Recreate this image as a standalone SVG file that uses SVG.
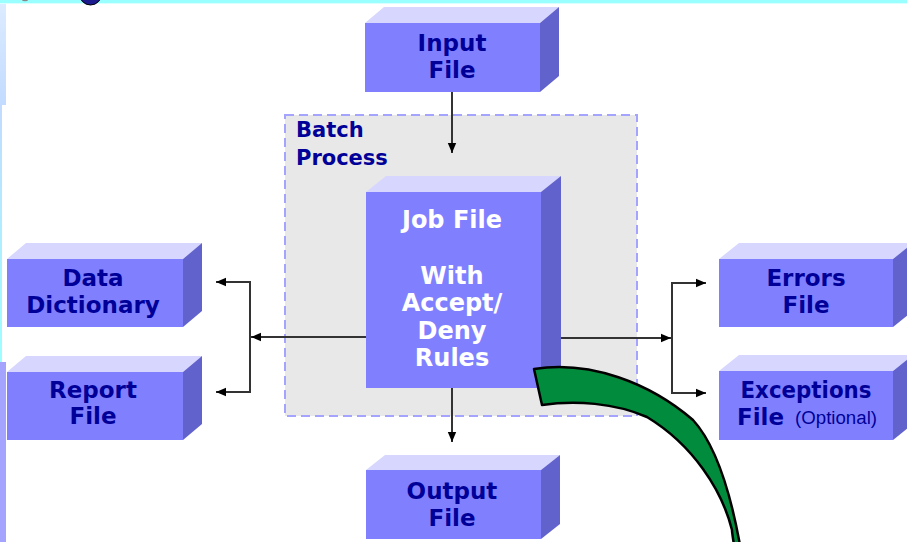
<svg xmlns="http://www.w3.org/2000/svg" width="907" height="542" viewBox="0 0 907 542">
  <defs>
    <marker id="arrow" markerUnits="userSpaceOnUse" markerWidth="10" markerHeight="10" viewBox="0 0 10 10" refX="10" refY="5" orient="auto">
      <path d="M0,0.8 L10,5 L0,9.2 Z" fill="#000"/>
    </marker>
    <linearGradient id="edgeTop" x1="0" y1="0" x2="0" y2="1">
      <stop offset="0" stop-color="#dcebff"/>
      <stop offset="1" stop-color="#c2dbff"/>
    </linearGradient>
    <linearGradient id="edgeMid" x1="0" y1="0" x2="0" y2="1">
      <stop offset="0" stop-color="#c2dbff"/>
      <stop offset="1" stop-color="#9cffff"/>
    </linearGradient>
  </defs>
  <style>
    .front { fill: #8080ff; }
    .top { fill: #d6d6ff; }
    .side { fill: #6262cc; }
    .label { font-family: "DejaVu Sans", "Liberation Sans", sans-serif; font-weight: bold; font-size: 23px; fill: #000099; text-anchor: middle; }
    .job { font-family: "DejaVu Sans", "Liberation Sans", sans-serif; font-weight: bold; font-size: 24px; fill: #ffffff; text-anchor: middle; }
    .small { font-family: "Liberation Sans", Arial, sans-serif; font-weight: normal; font-size: 18px; fill: #000099; }
    .wire { fill: none; stroke: #333; stroke-width: 2; }
  </style>

  <rect width="907" height="542" fill="#ffffff"/>

  <!-- slide frame decorations -->
  <rect x="0" y="0" width="907" height="3" fill="#99ffff"/>
  <rect x="0" y="3" width="907" height="1" fill="#d9ffff"/>
  <ellipse cx="90.5" cy="-7" rx="11.5" ry="12" fill="#1c1c8e" stroke="#000" stroke-width="1"/>
  <ellipse cx="25" cy="0" rx="3" ry="1.2" fill="#888"/>
  <rect x="0" y="4" width="6" height="101" fill="url(#edgeTop)"/>
  <rect x="0" y="105" width="2" height="257" fill="url(#edgeMid)"/>
  <rect x="0" y="362" width="6" height="180" fill="#a4a4ff"/>

  <!-- batch process container -->
  <g id="batch-process">
    <rect x="285" y="115" width="352" height="301" fill="#e8e8e8" stroke="#a4a4ff" stroke-width="2" stroke-dasharray="9 5"/>
    <text class="label" style="text-anchor:start;font-size:21px" x="296" y="137">Batch</text>
    <text class="label" style="text-anchor:start;font-size:21px" x="296" y="165">Process</text>
  </g>

  <!-- connectors -->
  <g id="connectors">
    <line class="wire" x1="452" y1="92" x2="452" y2="153" marker-end="url(#arrow)"/>
    <line class="wire" x1="452" y1="388" x2="452" y2="442" marker-end="url(#arrow)"/>
    <line class="wire" x1="366" y1="337" x2="251" y2="337" marker-end="url(#arrow)"/>
    <polyline class="wire" points="250,337 250,282 216,282" marker-end="url(#arrow)"/>
    <polyline class="wire" points="250,337 250,392 216,392" marker-end="url(#arrow)"/>
    <line class="wire" x1="561" y1="338" x2="671" y2="338" marker-end="url(#arrow)"/>
    <polyline class="wire" points="672,338 672,283 706,283" marker-end="url(#arrow)"/>
    <polyline class="wire" points="672,338 672,393 706,393" marker-end="url(#arrow)"/>
  </g>

  <g id="input-file">
    <polygon class="top" points="365,23 384,7 559,7 540,23"/>
    <polygon class="side" points="540,23 559,7 559,76 540,92"/>
    <rect class="front" x="365" y="23" width="175" height="69"/>
    <text class="label" x="452" y="51">Input</text>
    <text class="label" x="452" y="78">File</text>
  </g>

  <g id="job-file">
    <polygon class="top" points="366,192 386,176 561,176 541,192"/>
    <polygon class="side" points="541,192 561,176 561,372 541,388"/>
    <rect class="front" x="366" y="192" width="175" height="196"/>
    <text class="job" x="452" y="228">Job File</text>
    <text class="job" x="452" y="284">With</text>
    <text class="job" x="452" y="311">Accept/</text>
    <text class="job" x="452" y="339">Deny</text>
    <text class="job" x="452" y="366">Rules</text>
  </g>

  <g id="data-dictionary">
    <polygon class="top" points="7,259 26,243 202,243 183,259"/>
    <polygon class="side" points="183,259 202,243 202,311 183,327"/>
    <rect class="front" x="7" y="259" width="176" height="68"/>
    <text class="label" x="93" y="286">Data</text>
    <text class="label" x="93" y="313">Dictionary</text>
  </g>

  <g id="report-file">
    <polygon class="top" points="7,372 26,356 202,356 183,372"/>
    <polygon class="side" points="183,372 202,356 202,424 183,440"/>
    <rect class="front" x="7" y="372" width="176" height="68"/>
    <text class="label" x="93" y="398">Report</text>
    <text class="label" x="93" y="424">File</text>
  </g>

  <g id="errors-file">
    <polygon class="top" points="719,259 739,243 913,243 893,259"/>
    <polygon class="side" points="893,259 913,243 913,311 893,327"/>
    <rect class="front" x="719" y="259" width="174" height="68"/>
    <text class="label" x="806" y="286">Errors</text>
    <text class="label" x="806" y="313">File</text>
  </g>

  <g id="exceptions-file">
    <polygon class="top" points="719,371 739,355 913,355 893,371"/>
    <polygon class="side" points="893,371 913,355 913,424 893,440"/>
    <rect class="front" x="719" y="371" width="174" height="69"/>
    <text class="label" x="806" y="398" textLength="131" lengthAdjust="spacingAndGlyphs">Exceptions</text>
    <text class="label" style="text-anchor:start" x="737" y="425">File</text>
    <text class="small" x="795" y="424" textLength="82" lengthAdjust="spacingAndGlyphs">(Optional)</text>
  </g>

  <g id="output-file">
    <polygon class="top" points="366,470 385,455 560,455 541,470"/>
    <polygon class="side" points="541,470 560,455 560,524 541,539"/>
    <rect class="front" x="366" y="470" width="175" height="69"/>
    <text class="label" x="452" y="499">Output</text>
    <text class="label" x="452" y="526">File</text>
  </g>

  <!-- curved green callout arrow -->
  <g id="green-arrow">
    <path d="M534,369 C590,360 650,383 693,420 C716,445 730,490 740,545 L734,545 C733,538 732,533 732,530 C722,490 693,445 647,417 C615,403 575,400 542,405 Z" fill="#008c3c" stroke="#000" stroke-width="2.5" stroke-linejoin="round"/>
  </g>
</svg>
